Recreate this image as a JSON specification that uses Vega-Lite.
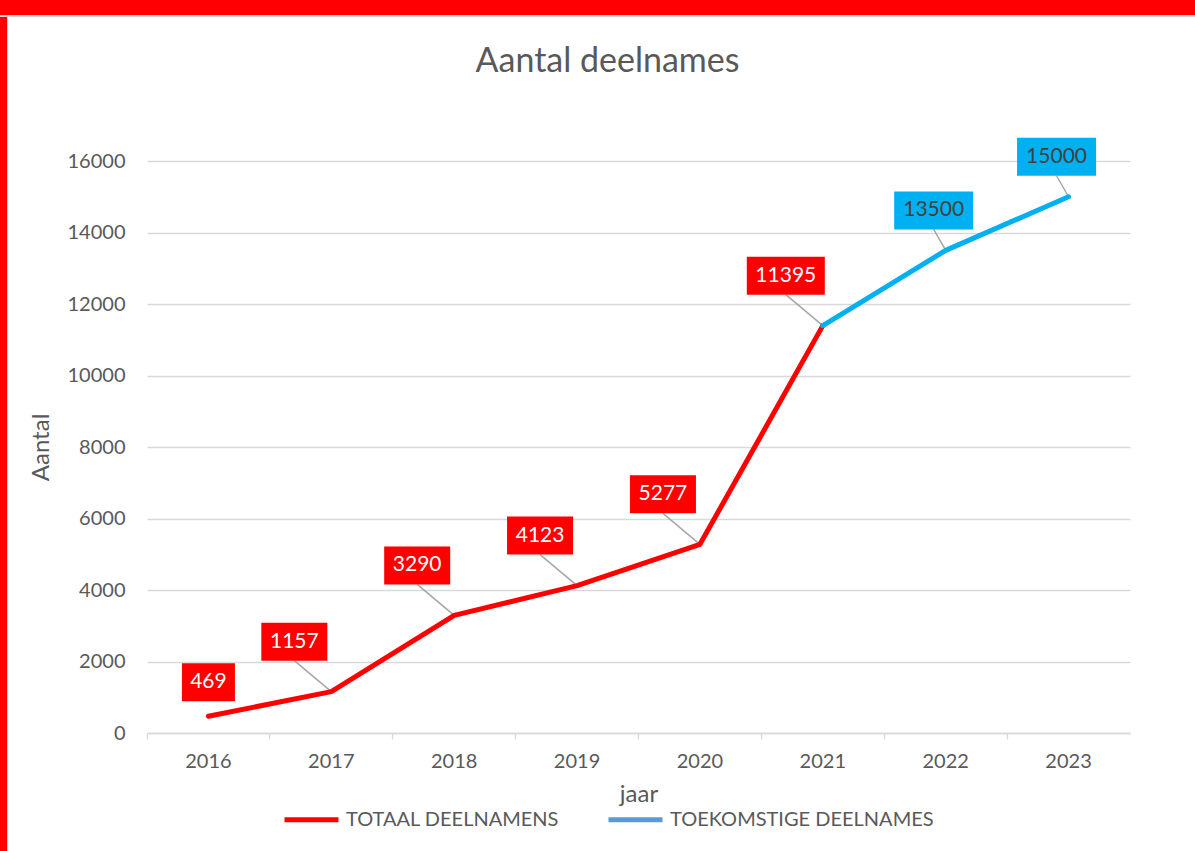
{
  "$schema": "https://vega.github.io/schema/vega-lite/v6.json",
  "background": "white",
  "padding": 0,
  "spacing": 0,
  "config": {"font": "Lato", "view": {"stroke": null}},
  "resolve": {"scale": {"color": "independent"}, "legend": {"color": "independent"}},
  "vconcat": [
    {"width": 1195, "height": 15, "data": {"values": []}, "mark": "point", "view": {"fill": "#FF0000", "stroke": null}},
    {"width": 1195, "height": 2, "data": {"values": []}, "mark": "point", "view": {"fill": "#D9D9D9", "stroke": null}},
    {
      "spacing": 0,
      "resolve": {"scale": {"color": "independent"}, "legend": {"color": "independent"}},
      "hconcat": [
        {"width": 7, "height": 834, "data": {"values": []}, "mark": "point", "view": {"fill": "#FF0000", "stroke": null}},
        {"width": 1, "height": 834, "data": {"values": []}, "mark": "point", "view": {"fill": "#D9D9D9", "stroke": null}},
        {"width": 21, "height": 1, "data": {"values": []}, "mark": "point", "view": {"stroke": null}},
        {
          "spacing": 0,
          "resolve": {"scale": {"color": "independent"}, "legend": {"color": "independent"}},
          "vconcat": [
            {"width": 1, "height": 27, "data": {"values": []}, "mark": "point", "view": {"stroke": null}},
            {
              "width": 983,
              "height": 572,
              "title": {"text": "Aantal deelnames", "fontSize": 34, "font": "Lato", "fontWeight": "normal", "color": "#595959", "anchor": "middle", "frame": "group", "dx": -31, "offset": 59},
              "data": {"values": [
                {"jaar": "2016", "aantal": 469, "reeks": "TOTAAL DEELNAMENS"},
                {"jaar": "2017", "aantal": 1157, "reeks": "TOTAAL DEELNAMENS"},
                {"jaar": "2018", "aantal": 3290, "reeks": "TOTAAL DEELNAMENS"},
                {"jaar": "2019", "aantal": 4123, "reeks": "TOTAAL DEELNAMENS"},
                {"jaar": "2020", "aantal": 5277, "reeks": "TOTAAL DEELNAMENS"},
                {"jaar": "2021", "aantal": 11395, "reeks": "TOTAAL DEELNAMENS"},
                {"jaar": "2021", "aantal": 11395, "reeks": "TOEKOMSTIGE DEELNAMES"},
                {"jaar": "2022", "aantal": 13500, "reeks": "TOEKOMSTIGE DEELNAMES"},
                {"jaar": "2023", "aantal": 15000, "reeks": "TOEKOMSTIGE DEELNAMES"}
              ]},
              "encoding": {
                "x": {"field": "jaar", "type": "ordinal", "title": "jaar",
                  "scale": {"type": "band", "paddingInner": 0, "paddingOuter": 0},
                  "axis": {"labelAngle": 0, "labelFontSize": 20, "labelColor": "#595959", "labelPadding": 12, "domainColor": "#D9D9D9", "domainWidth": 1.3, "tickColor": "#D9D9D9", "tickSize": 6, "tickWidth": 1.3, "bandPosition": 0, "grid": false, "titleFontSize": 24, "titleFontWeight": "normal", "titleColor": "#595959", "titlePadding": 11}},
                "y": {"field": "aantal", "type": "quantitative", "title": "Aantal",
                  "scale": {"domain": [0, 16000], "nice": false},
                  "axis": {"values": [0, 2000, 4000, 6000, 8000, 10000, 12000, 14000, 16000], "format": "d", "labelFontSize": 20, "labelColor": "#595959", "labelPadding": 22, "domain": false, "ticks": false, "grid": true, "gridColor": "#D9D9D9", "gridWidth": 1.3, "titleFontSize": 24, "titleFontWeight": "normal", "titleColor": "#595959", "titlePadding": 14}}
              },
              "layer": [
                {
                  "transform": [{"filter": "datum.reeks == 'TOTAAL DEELNAMENS' && datum.aantal >= 1000"}],
                  "mark": {"type": "point", "shape": "M0,0L-37,-31", "size": 4, "filled": false, "stroke": "#A6A6A6", "strokeWidth": 1.5, "opacity": 1}
                },
                {
                  "transform": [{"filter": "datum.reeks == 'TOEKOMSTIGE DEELNAMES' && datum.jaar != '2021'"}],
                  "mark": {"type": "point", "shape": "M0,0L-12,-21", "size": 4, "filled": false, "stroke": "#A6A6A6", "strokeWidth": 1.5, "opacity": 1}
                },
                {
                  "transform": [{"filter": "datum.reeks == 'TOTAAL DEELNAMENS'"}],
                  "mark": {"type": "line", "color": "#FF0000", "strokeWidth": 5, "strokeCap": "round", "strokeJoin": "round"}
                },
                {
                  "transform": [{"filter": "datum.reeks == 'TOEKOMSTIGE DEELNAMES'"}],
                  "mark": {"type": "line", "color": "#00B0F0", "strokeWidth": 5, "strokeCap": "round", "strokeJoin": "round"}
                },
                {
                  "transform": [{"filter": "datum.aantal < 0"}],
                  "mark": {"type": "line", "strokeWidth": 5},
                  "encoding": {"color": {"field": "reeks", "type": "nominal",
                    "scale": {"domain": ["TOTAAL DEELNAMENS", "TOEKOMSTIGE DEELNAMES"], "range": ["#FF0000", "#5B9BD5"]},
                    "legend": {"orient": "none", "legendX": 135, "legendY": 629, "direction": "horizontal", "title": null, "symbolType": "stroke", "symbolSize": 2916, "symbolStrokeWidth": 5, "symbolOpacity": 1, "labelFontSize": 20, "labelFont": "Lato", "labelColor": "#595959", "labelOffset": 5, "labelLimit": 0, "columnPadding": 38}}}
                },
                {
                  "transform": [{"filter": "datum.reeks == 'TOTAAL DEELNAMENS' && datum.aantal < 1000"}],
                  "mark": {"type": "point", "shape": "M-26.5,-53H26.5V-15H-26.5Z", "size": 4, "filled": true, "color": "#FF0000", "opacity": 1}
                },
                {
                  "transform": [{"filter": "datum.reeks == 'TOTAAL DEELNAMENS' && datum.aantal >= 1000 && datum.aantal < 10000"}],
                  "mark": {"type": "point", "shape": "M-70,-69H-4V-31H-70Z", "size": 4, "filled": true, "color": "#FF0000", "opacity": 1}
                },
                {
                  "transform": [{"filter": "datum.reeks == 'TOTAAL DEELNAMENS' && datum.aantal >= 10000"}],
                  "mark": {"type": "point", "shape": "M-76,-69H2V-31H-76Z", "size": 4, "filled": true, "color": "#FF0000", "opacity": 1}
                },
                {
                  "transform": [{"filter": "datum.reeks == 'TOEKOMSTIGE DEELNAMES' && datum.jaar != '2021'"}],
                  "mark": {"type": "point", "shape": "M-51.5,-59H27.5V-21H-51.5Z", "size": 4, "filled": true, "color": "#00B0F0", "opacity": 1}
                },
                {
                  "transform": [{"filter": "datum.reeks == 'TOTAAL DEELNAMENS' && datum.aantal < 1000"}],
                  "mark": {"type": "text", "dx": 0, "dy": -34, "fontSize": 21, "color": "white", "align": "center", "baseline": "middle"},
                  "encoding": {"text": {"field": "aantal", "type": "quantitative", "format": "d"}}
                },
                {
                  "transform": [{"filter": "datum.reeks == 'TOTAAL DEELNAMENS' && datum.aantal >= 1000"}],
                  "mark": {"type": "text", "dx": -37, "dy": -50, "fontSize": 21, "color": "white", "align": "center", "baseline": "middle"},
                  "encoding": {"text": {"field": "aantal", "type": "quantitative", "format": "d"}}
                },
                {
                  "transform": [{"filter": "datum.reeks == 'TOEKOMSTIGE DEELNAMES' && datum.jaar != '2021'"}],
                  "mark": {"type": "text", "dx": -12, "dy": -40, "fontSize": 21, "color": "#404040", "align": "center", "baseline": "middle"},
                  "encoding": {"text": {"field": "aantal", "type": "quantitative", "format": "d"}}
                }
              ]
            }
          ]
        }
      ]
    }
  ]
}
